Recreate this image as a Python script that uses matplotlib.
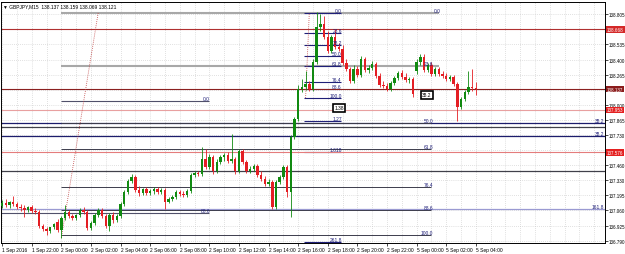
import matplotlib
matplotlib.use("Agg")
import matplotlib.pyplot as plt
import matplotlib.transforms as mtransforms
import numpy as np

# GBPJPY M15, 1 Sep 2016 20:00 .. 5 Sep 2016 04:00 (weekend bars absent)
opens = [
    137.100, 137.127, 137.109, 137.135, 137.118, 137.091, 137.082, 137.064, 137.091, 137.055,
    137.047, 136.922, 136.896, 136.878, 136.913, 136.958, 136.887, 136.993, 137.047, 137.011,
    136.993, 137.020, 137.064, 137.047, 136.905, 136.949, 137.020, 137.064, 137.011, 136.922,
    137.020, 136.976, 137.011, 137.118, 137.224, 137.322, 137.357, 137.242, 137.215, 137.251,
    137.215, 137.233, 137.251, 137.224, 137.242, 137.135, 137.162, 137.180, 137.224, 137.206,
    137.198, 137.233, 137.375, 137.393, 137.384, 137.517, 137.446, 137.535, 137.411, 137.491,
    137.535, 137.553, 137.499, 137.517, 137.411, 137.588, 137.491, 137.411, 137.428, 137.455,
    137.375, 137.340, 137.295, 137.313, 137.091, 137.313, 137.357, 137.446, 137.224, 137.713,
    137.872, 138.139, 138.157, 138.183, 138.139, 138.379, 138.689, 138.716, 138.601, 138.476,
    138.601, 138.512, 138.494, 138.370, 138.316, 138.210, 138.316, 138.263, 138.405, 138.308,
    138.325, 138.361, 138.254, 138.174, 138.165, 138.139, 138.192, 138.237, 138.281, 138.245,
    138.219, 138.228, 138.299, 138.379, 138.423, 138.308, 138.352, 138.272, 138.316, 138.272,
    138.254, 138.228, 138.245, 138.183, 137.979, 138.050, 138.112, 138.157, 138.148,
]
highs = [
    137.153, 137.162, 137.144, 137.189, 137.135, 137.118, 137.109, 137.100, 137.109, 137.082,
    137.064, 136.940, 136.913, 136.913, 136.949, 136.984, 137.011, 137.109, 137.064, 137.029,
    137.029, 137.082, 137.091, 137.064, 136.967, 137.038, 137.082, 137.082, 137.029, 137.038,
    137.047, 137.029, 137.135, 137.242, 137.340, 137.384, 137.375, 137.277, 137.260, 137.269,
    137.251, 137.269, 137.269, 137.260, 137.260, 137.180, 137.198, 137.242, 137.242, 137.233,
    137.251, 137.393, 137.411, 137.411, 137.624, 137.606, 137.562, 137.553, 137.517, 137.553,
    137.570, 137.579, 137.739, 137.535, 137.606, 137.606, 137.508, 137.455, 137.473, 137.473,
    137.411, 137.366, 137.340, 137.331, 137.331, 137.375, 137.464, 137.464, 137.730, 137.890,
    138.174, 138.228, 138.299, 138.210, 138.405, 138.823, 138.805, 138.787, 138.654, 138.618,
    138.672, 138.547, 138.529, 138.405, 138.334, 138.352, 138.343, 138.432, 138.423, 138.352,
    138.387, 138.379, 138.281, 138.210, 138.192, 138.210, 138.254, 138.299, 138.308, 138.281,
    138.245, 138.245, 138.405, 138.450, 138.450, 138.370, 138.379, 138.334, 138.334, 138.299,
    138.281, 138.263, 138.263, 138.201, 138.068, 138.130, 138.299, 138.316, 138.201,
]
lows = [
    137.082, 137.091, 137.082, 137.100, 137.073, 137.055, 137.002, 137.047, 137.038, 137.029,
    136.905, 136.878, 136.842, 136.860, 136.896, 136.869, 136.816, 136.976, 136.993, 136.976,
    136.976, 137.002, 137.029, 136.887, 136.887, 136.931, 137.002, 136.993, 136.905, 136.878,
    136.949, 136.958, 136.993, 137.100, 137.206, 137.304, 137.224, 137.189, 137.198, 137.198,
    137.198, 137.206, 137.206, 137.206, 137.073, 137.127, 137.144, 137.162, 137.189, 137.180,
    137.180, 137.215, 137.357, 137.366, 137.366, 137.428, 137.428, 137.384, 137.393, 137.473,
    137.499, 137.482, 137.482, 137.384, 137.393, 137.473, 137.393, 137.393, 137.411, 137.357,
    137.322, 137.277, 137.277, 137.073, 137.073, 137.295, 137.340, 137.180, 137.002, 137.695,
    137.855, 138.112, 138.130, 138.121, 138.121, 138.361, 138.654, 138.583, 138.458, 138.458,
    138.494, 138.476, 138.352, 138.299, 138.192, 138.192, 138.245, 138.245, 138.290, 138.281,
    138.308, 138.237, 138.157, 138.148, 138.121, 138.121, 138.174, 138.219, 138.228, 138.201,
    138.192, 138.068, 138.272, 138.352, 138.290, 138.290, 138.254, 138.254, 138.254, 138.237,
    138.210, 138.210, 138.165, 137.855, 137.961, 138.032, 138.094, 138.121, 138.086,
]
closes = [
    137.127, 137.109, 137.135, 137.118, 137.091, 137.082, 137.064, 137.091, 137.055, 137.047,
    136.922, 136.896, 136.878, 136.913, 136.940, 136.887, 136.993, 137.047, 137.011, 136.993,
    137.020, 137.064, 137.047, 136.905, 136.949, 137.020, 137.064, 137.011, 136.922, 137.020,
    136.976, 137.011, 137.118, 137.224, 137.322, 137.357, 137.242, 137.215, 137.251, 137.215,
    137.233, 137.251, 137.224, 137.242, 137.135, 137.162, 137.180, 137.224, 137.206, 137.198,
    137.233, 137.375, 137.393, 137.384, 137.517, 137.446, 137.535, 137.411, 137.491, 137.535,
    137.553, 137.499, 137.517, 137.411, 137.588, 137.491, 137.411, 137.428, 137.455, 137.375,
    137.340, 137.295, 137.313, 137.091, 137.313, 137.357, 137.446, 137.224, 137.713, 137.872,
    138.139, 138.157, 138.183, 138.139, 138.379, 138.689, 138.716, 138.601, 138.476, 138.601,
    138.512, 138.494, 138.370, 138.316, 138.210, 138.316, 138.263, 138.405, 138.308, 138.325,
    138.361, 138.254, 138.174, 138.165, 138.139, 138.192, 138.237, 138.281, 138.245, 138.219,
    138.228, 138.094, 138.379, 138.423, 138.308, 138.352, 138.272, 138.316, 138.272, 138.254,
    138.228, 138.245, 138.183, 137.979, 138.050, 138.112, 138.157, 138.148, 138.137,
]

# time axis labels (bar index, text)
xtick_bars = [0, 8, 16, 24, 32, 40, 48, 56, 64, 72, 80, 88, 96, 104, 112, 120, 128]
xtick_labels = ["1 Sep 2016", "1 Sep 22:00", "2 Sep 00:00", "2 Sep 02:00", "2 Sep 04:00",
                "2 Sep 06:00", "2 Sep 08:00", "2 Sep 10:00", "2 Sep 12:00", "2 Sep 14:00",
                "2 Sep 16:00", "2 Sep 18:00", "2 Sep 20:00", "2 Sep 22:00", "5 Sep 00:00",
                "5 Sep 02:00", "5 Sep 04:00"]

# price scale
ytick_values = [138.805, 138.535, 138.400, 138.265, 138.000, 137.865, 137.730,
                137.460, 137.330, 137.195, 137.060, 136.925, 136.790]
hidden_grid = [138.670, 138.130, 137.595]

# horizontal price lines with a price box on the scale
hline_prices = [138.668, 138.137, 137.953, 137.576]

# small fibo (spike high to 2 Sep 16:00 base)
sfib_labels = ["0.0", "23.6", "38.2", "50.0", "61.8", "76.4", "88.6", "100.0", "1.27", "1.618", "261.8"]
sfib_prices = [138.814, 138.636, 138.529, 138.432, 138.343, 138.201, 138.139, 138.059,
               137.855, 137.579, 136.780]

# big fibo (2 Sep low to spike high)
bfib_labels = ["0.0", "23.6", "50.0", "61.8", "76.4", "88.6", "100.0"]
bfib_prices = [138.814, 138.343, 137.837, 137.606, 137.269, 137.064, 136.842]

# lines across the whole chart
wide_prices = [137.837, 137.802, 137.722, 137.411, 137.073]
wide_labels = ["38.2", "", "38.2", "", "161.8"]

# shorter lines on the left part
left_prices = [138.032, 137.038]
left_labels = ["0.0", "88.6"]

# boxed notes
note_texts = ["1.38", "38.2"]
note_bars = [91.0, 114.8]
note_prices = [137.970, 138.086]

GREEN = "#118a11"
RED = "#e41e24"
NAVY = "#1f1f78"
FS = 3.5
YFS = 3.25

plt.rcParams["font.family"] = ["Liberation Sans", "DejaVu Sans"]

fig = plt.figure(figsize=(6.25, 2.55), dpi=100)
ax = fig.add_axes([1 / 625, 11 / 255, 604 / 625, 241 / 255])
ax.set_xlim(-0.3, 162.9)
ax.set_ylim(136.771, 138.911)
yx = mtransforms.blended_transform_factory(ax.transAxes, ax.transData)

# grid
for b in range(0, 164, 4):
    ax.axvline(b, color="#c4c4c4", lw=0.5, ls=(0, (1, 2)), zorder=0)
for p in ytick_values + hidden_grid:
    ax.axhline(p, color="#c4c4c4", lw=0.5, ls=(0, (1, 2)), zorder=0)

# overlays
for p, lab in zip(wide_prices, wide_labels):
    col = "#9a9ad2" if lab == "161.8" else ("#1c1c6c" if lab else "#40404a")
    ax.axhline(p, color=col, lw=0.9, zorder=1)
    if lab:
        ax.text(162.6, p, lab, color=NAVY, fontsize=FS, ha="right", va="bottom", zorder=6)

for p, lab in zip(left_prices, left_labels):
    ax.hlines(p, 16 if lab == "0.0" else -0.3, 56, color="#50506a", lw=0.8, zorder=1)
    ax.text(56.2, p, lab, color=NAVY, fontsize=FS, ha="right", va="bottom", zorder=6)

for k, (p, lab) in enumerate(zip(bfib_prices, bfib_labels)):
    if k < 2:
        ax.hlines(p, 16, 118, color="#a8a8a8", lw=1.5, zorder=1)
    else:
        ax.hlines(p, 16, 116, color="#3c3c4c", lw=0.7, zorder=1)
    ax.text(116.5 if k else 118.5, p, lab, color=NAVY, fontsize=FS, ha="right", va="bottom", zorder=6)
ax.plot([16, 26], [lows[16], highs[85]], color="#c04040", lw=0.6, ls=(0, (1, 1.5)), zorder=2)

for p, lab in zip(sfib_prices, sfib_labels):
    ax.hlines(p, 81.6, 91.6, color=NAVY, lw=0.8, zorder=1)
    ax.text(91.8, p, lab, color=NAVY, fontsize=FS, ha="right", va="bottom", zorder=6)
ax.plot([82, 83], [sfib_prices[7], sfib_prices[0]], color="#c04040", lw=0.6, ls=(0, (1, 1.5)), zorder=2)

hline_colors = ["#b03030", "#8b2020", "#e8a0a0", "#e47c7c"]
box_colors = ["#d42828", "#8b1c1c", "#e42020", "#e42020"]
for p, lc, bc in zip(hline_prices, hline_colors, box_colors):
    ax.axhline(p, color=lc, lw=0.8, zorder=1)
    ax.text(1.0035, p, f"{p:.3f}", transform=yx, color="white", fontsize=YFS, ha="left", va="center",
            bbox=dict(fc=bc, ec="none", pad=0.5), clip_on=False, zorder=7)

# candles
o = np.array(opens)
h = np.array(highs)
l = np.array(lows)
c = np.array(closes)
x = np.arange(len(c))
col = np.where(c >= o, GREEN, RED)
ax.vlines(x, l, h, colors=col, lw=0.6, zorder=3)
ax.bar(x, np.maximum(np.abs(c - o), 0.004), bottom=np.minimum(o, c), width=0.66,
       color=col, lw=0, zorder=4)

for t, b, p in zip(note_texts, note_bars, note_prices):
    ax.text(b, p, t, color="black", fontsize=FS, ha="center", va="center", zorder=8,
            bbox=dict(fc="white", ec="black", lw=1.2, pad=0.9))

# axes
ax.yaxis.tick_right()
ax.set_yticks(ytick_values)
ax.set_yticklabels([f"{v:.3f}" for v in ytick_values])
ax.set_xticks(xtick_bars)
ax.set_xticklabels(xtick_labels)
for t in ax.get_xticklabels():
    t.set_ha("left")
ax.tick_params(axis="x", labelsize=FS, length=2, width=0.5, pad=1.2, colors="black")
ax.tick_params(axis="y", labelsize=YFS, length=2, width=0.5, pad=0.6, colors="black")
for s in ax.spines.values():
    s.set_linewidth(0.7)

ax.text(0.004, 0.995, "\u25bc GBPJPY,M15  138.137 138.159 138.069 138.121", transform=ax.transAxes,
        fontsize=FS, ha="left", va="top", zorder=9)

fig.savefig("out.png", dpi=100)
